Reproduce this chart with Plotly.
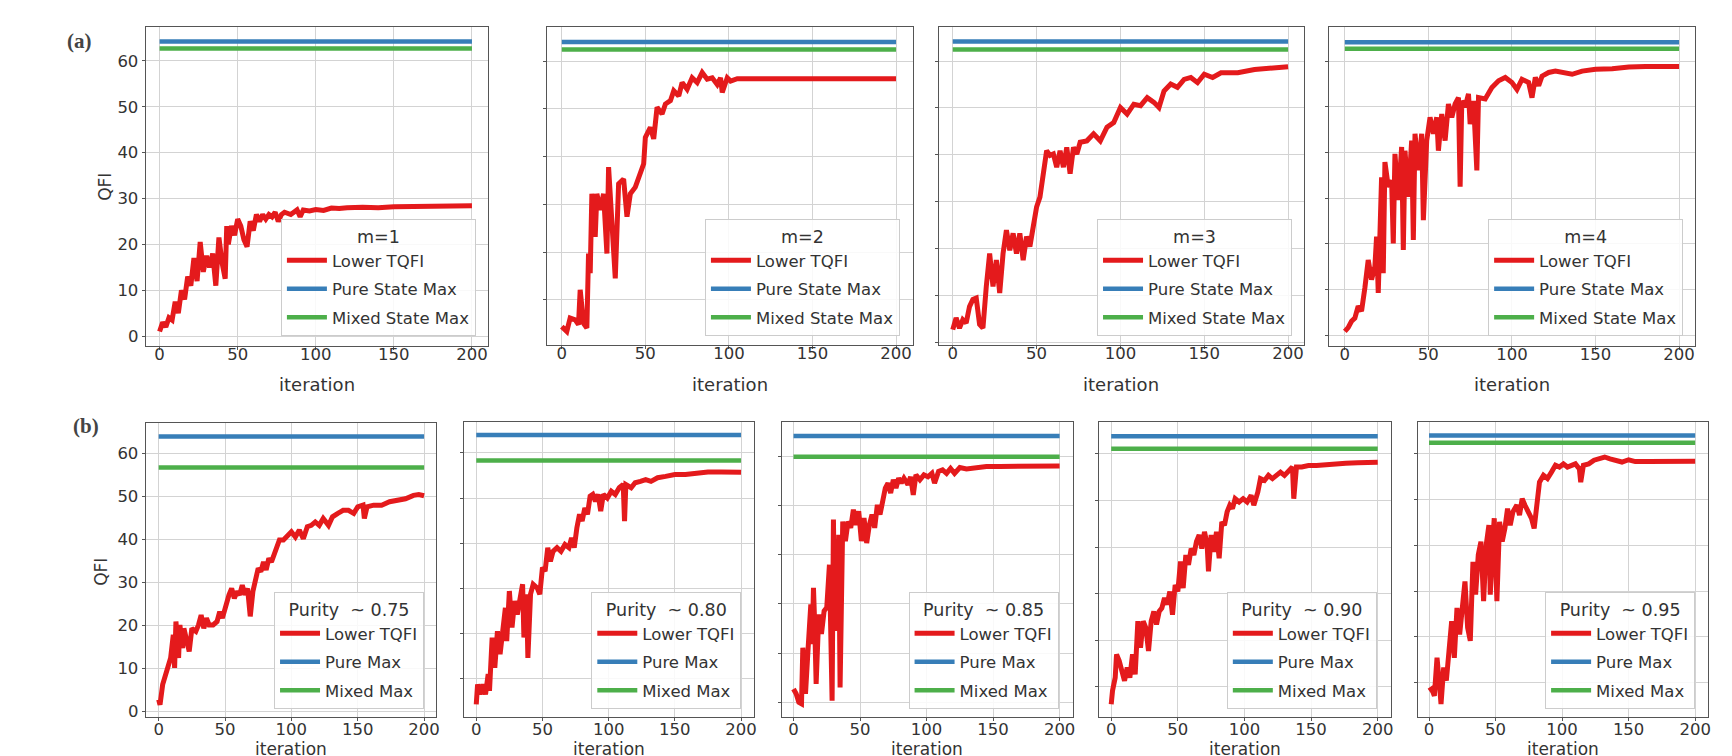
import plotly.graph_objects as go

W, H = 1732, 756

# ---------------- data ----------------
# Row (a): m = 1..4
a1_iter = [0,2,4,6,8,10,12,14,16,18,20,22,24,26,28,30,32,34,36,38,40,42,43,44,46,48,50,52,54,56,58,60,62,64,66,68,70,72,74,76,78,80,84,88,90,92,96,100,105,110,115,120,130,140,150,160,170,180,190,200]
a1_qfi = [1.0,3.0,2.0,4.0,3.5,7.5,5.0,10.0,8.0,13.0,11.0,17.0,12.0,20.5,14.0,17.5,15.0,18.0,11.0,21.5,16.0,12.5,24.0,20.0,24.0,22.0,25.5,24.0,21.0,19.5,25.0,23.0,26.5,25.0,26.5,25.5,26.5,26.0,27.0,25.0,26.5,27.0,26.5,27.5,26.0,27.5,27.3,27.6,27.4,27.9,27.8,28.0,28.1,28.0,28.2,28.2,28.3,28.3,28.3,28.4]

a2_iter = [0,3,5,8,10,11,13,15,16,17,18,20,21,23,25,27,28,30,32,34,37,39,41,44,47,49,50,53,55,57,60,62,65,67,70,72,75,78,81,84,87,90,93,95,96,99,101,105,120,200]
a2_qfi = [4.4,3.4,6.2,5.8,4.8,12.1,5.1,4.1,19.7,15.6,32.2,23.2,32.2,28.8,32.2,19.7,37.8,26.0,14.5,34.3,35.3,27.4,32.2,33.6,36.4,38.5,44.0,46.1,43.7,50.3,48.9,51.0,51.7,53.8,52.7,55.5,54.1,56.5,55.5,57.6,56.2,56.5,55.1,56.5,53.4,56.5,55.8,56.3,56.3,56.3]

a3_iter = [0,2,4,6,8,10,12,14,16,18,20,22,24,26,28,30,32,34,36,38,40,42,44,46,48,50,52,54,56,58,60,62,64,66,68,70,72,74,76,80,84,88,92,96,100,104,108,112,116,120,123,126,130,134,138,142,146,150,155,160,170,180,190,200]
a3_qfi = [2.8,5.3,3.1,4.9,4.2,7.7,9.2,9.5,3.9,3.1,12.0,19.0,12.0,17.6,10.6,19.0,24.0,19.7,23.3,19.0,23.3,17.6,22.6,20.5,24.7,28.9,31.0,36.0,40.9,39.9,40.2,37.4,40.9,37.4,41.6,36.0,41.6,40.2,42.7,43.0,44.5,43.0,45.9,46.9,50.1,48.7,50.8,50.5,52.2,51.2,50.1,53.6,55.1,54.4,56.1,56.5,55.4,57.2,56.5,57.5,57.5,58.2,58.6,58.8]

a4_iter = [0,2,4,6,8,10,12,14,16,18,19,20,22,23,24,26,28,29,30,32,34,35,36,38,40,41,42,44,46,47,49,51,53,55,56,58,60,62,64,66,68,69,70,72,74,75,77,79,80,84,88,92,96,100,103,106,110,112,114,116,118,122,126,130,136,142,150,160,170,180,190,200]
a4_qfi = [0.9,1.7,3.1,3.8,6.4,5.3,10.4,16.5,12.2,15.1,21.6,9.3,34.6,13.6,37.9,32.5,33.9,20.1,39.7,29.6,41.2,18.7,40.4,30.3,42.6,20.9,44.1,36.1,44.1,25.2,42.6,47.7,44.1,47.7,40.4,48.4,42.6,50.6,47.7,50.6,52.0,32.5,51.3,49.9,52.8,46.2,51.3,36.1,52.0,51.7,54.2,55.7,56.4,55.3,53.8,56.0,55.3,52.0,56.4,54.6,56.7,57.5,57.8,57.5,57.1,57.8,58.2,58.3,58.7,58.8,58.8,58.8]

pure_max_a = [64.2, 64.0, 64.15, 64.1]
mixed_max_a = [62.7, 62.4, 62.46, 62.7]
titles_a = ["m=1", "m=2", "m=3", "m=4"]
names_a = ["Lower TQFI", "Pure State Max", "Mixed State Max"]

# Row (b): purity ~ 0.75 .. 0.95
b1_iter = [0,1,3,5,7,9,11,12,13,15,16,18,19,21,23,25,28,30,32,34,36,38,41,44,46,48,50,53,55,57,59,61,63,65,67,69,71,73,75,77,79,81,83,85,87,89,91,94,97,100,103,106,109,112,115,118,121,124,128,131,135,139,143,147,150,154,155,157,162,168,174,180,186,192,196,200]
b1_qfi = [2.7,1.5,6.2,8.5,10.8,12.4,17.8,10.1,20.9,12.4,20.1,14.7,19.3,17.0,13.9,19.3,18.6,20.1,22.4,19.3,21.7,20.1,20.1,20.9,23.2,21.7,24.0,27.1,28.6,26.3,27.9,27.1,29.4,27.1,28.6,22.1,27.9,30.2,33.3,32.5,34.8,32.9,35.6,34.8,36.4,38.7,39.9,39.9,41.0,41.8,40.6,42.2,40.2,43.0,43.3,44.1,43.3,44.9,43.3,45.3,46.1,46.8,46.8,46.1,47.6,48.0,44.9,47.6,48.0,48.0,48.8,49.1,49.5,50.3,50.5,50.2]

b2_iter = [0,1,3,5,7,9,10,12,14,16,18,20,22,23,25,27,29,31,33,35,36,38,39,41,43,46,48,50,52,54,56,58,61,64,67,70,72,74,76,78,80,82,84,86,88,90,92,94,96,99,102,105,108,111,112,113,117,120,124,128,132,137,143,150,158,166,175,185,200]
b2_qfi = [4.3,8.7,6.5,8.7,6.5,11.0,7.3,19.1,12.4,20.5,15.4,22.0,25.7,18.3,29.4,21.3,27.2,24.2,27.2,30.9,19.1,28.7,14.6,28.7,30.9,30.1,28.7,34.6,33.8,39.0,36.0,38.2,39.0,38.2,39.7,39.0,41.2,39.0,43.4,46.4,44.9,47.8,46.4,50.4,50.8,49.3,50.8,47.1,50.8,50.0,51.5,50.8,52.3,53.0,44.9,53.0,52.3,53.4,53.7,54.1,53.7,54.5,54.8,55.2,55.2,55.6,55.8,55.8,55.7]

b3_iter = [0,2,4,6,7,9,11,13,14,15,16,17,19,21,23,25,27,28,29,30,31,32,33,34,35,37,39,41,43,45,47,49,51,53,55,57,59,61,63,65,67,69,71,73,75,77,79,81,83,86,88,90,92,95,98,101,104,106,109,112,115,118,121,125,130,136,145,155,170,185,200]
b3_qfi = [12.7,11.7,10.0,9.7,21.1,11.7,21.1,29.9,21.8,33.3,25.2,13.7,27.9,23.9,28.6,29.3,38.0,25.2,10.3,47.2,24.5,37.4,25.9,44.1,13.0,46.8,42.8,46.8,45.5,49.2,46.1,48.9,42.8,47.5,42.4,46.1,48.2,45.5,50.2,48.2,51.2,53.6,54.6,52.6,55.3,53.6,55.6,54.6,55.6,54.3,55.9,52.2,56.3,55.3,56.3,55.9,56.6,54.6,57.0,57.3,56.6,57.6,56.6,57.8,57.5,57.8,58.0,58.0,58.1,58.1,58.1]

b4_iter = [0,1,3,4,6,8,10,12,14,16,18,20,22,24,26,28,30,32,34,36,38,40,42,44,46,48,50,52,54,56,58,60,62,64,66,68,70,72,73,75,77,79,81,83,85,87,89,91,93,96,99,102,105,107,110,112,115,118,121,124,127,130,133,136,137,139,143,148,154,160,168,176,185,192,200]
b4_qfi = [6.3,9.2,12.0,17.0,15.6,13.4,11.3,14.2,12.0,17.0,12.7,24.1,18.4,24.1,22.7,17.7,24.1,26.2,23.4,26.2,26.9,29.1,27.7,30.5,25.5,31.9,30.5,36.9,31.2,38.3,36.2,39.7,38.3,41.2,42.6,39.7,43.3,40.5,34.8,42.6,39.0,43.3,37.6,45.4,44.7,47.6,49.0,48.3,50.4,49.7,50.4,49.7,51.1,49.0,51.8,54.7,54.3,55.4,54.7,55.4,56.1,55.4,56.4,57.2,50.4,57.2,57.2,57.5,57.5,57.7,57.9,58.0,58.1,58.2,58.2]

b5_iter = [0,2,4,6,8,9,11,13,15,17,19,21,23,25,27,29,31,33,35,37,39,41,43,45,46,48,49,51,53,55,57,59,61,63,66,68,70,72,75,77,79,81,83,86,89,92,95,98,101,104,107,110,113,114,116,120,124,128,132,136,140,145,150,155,165,180,200]
b5_qfi = [8.2,8.6,7.1,15.4,8.9,5.3,13.3,10.4,16.9,23.4,15.4,26.3,20.5,27.8,32.1,22.0,19.1,36.4,29.2,37.9,40.8,27.8,40.1,44.4,29.2,41.5,45.9,27.8,45.1,40.8,43.7,48.0,44.4,47.3,48.8,46.6,50.2,48.8,47.3,45.9,43.7,48.8,53.8,55.3,54.6,56.0,57.5,57.1,57.8,57.1,57.5,57.8,56.7,53.8,57.5,57.8,58.6,58.9,59.3,58.9,58.6,58.2,58.7,58.3,58.3,58.4,58.4]

pure_max_b = [64.0, 64.0, 64.2, 63.8, 64.0]
mixed_max_b = [56.8, 58.3, 60.0, 61.1, 62.4]
titles_b = ["Purity\u00a0 ~ 0.75", "Purity\u00a0 ~ 0.80", "Purity\u00a0 ~ 0.85",
            "Purity\u00a0 ~ 0.90", "Purity\u00a0 ~ 0.95"]
names_b = ["Lower TQFI", "Pure Max", "Mixed Max"]

x_ticks = [0, 50, 100, 150, 200]
y_ticks = [0, 10, 20, 30, 40, 50, 60]

# ---------------- layout geometry (pixels) ----------------
frames_a = [(138, 481, 19, 340), (540, 907, 19, 339), (933, 1299, 19, 339), (1324, 1691, 19, 340)]
xr_a = [(-8.9, 210.2), (-9.0, 210.1), (-8.3, 209.5), (-9.5, 209.6)]
yr_a = [(-2.2, 67.4), (0.5, 67.15), (-0.53, 67.27), (-2.35, 67.46)]
leg_a = [(469, 330), (894, 330), (1287, 330), (1679, 330)]

frames_b = [(138, 429, 417, 713), (457, 748, 416, 713), (776, 1067, 416, 713),
            (1094, 1386, 416, 713), (1413, 1704, 416, 713)]
xr_b = [(-9.8, 209.0), (-9.3, 210.0), (-8.5, 209.7), (-8.8, 209.8), (-8.5, 209.7)]
yr_b = [(-1.4, 67.2), (1.44, 66.9), (6.94, 67.1), (3.5, 66.9), (2.4, 67.0)]
leg_b = [(417, 705), (735, 705), (1053, 705), (1372, 705), (1691, 705)]

RED, BLUE, GREEN = "#e41a1c", "#377eb8", "#4daf4a"
TXT = "#333333"
FONT = "DejaVu Sans"
TICK_SIZE = 16.5
LEG_SIZE = 16.5


def px(x):
    return x / W


def py(y):
    return 1 - y / H


fig = go.Figure()
layout = dict(
    width=W, height=H, autosize=False,
    margin=dict(l=0, r=0, t=0, b=0, pad=0),
    paper_bgcolor="white", plot_bgcolor="white",
    font=dict(family=FONT, size=16, color=TXT),
    annotations=[], showlegend=True,
)

panels = []
series_a = [(a1_iter, a1_qfi), (a2_iter, a2_qfi), (a3_iter, a3_qfi), (a4_iter, a4_qfi)]
series_b = [(b1_iter, b1_qfi), (b2_iter, b2_qfi), (b3_iter, b3_qfi), (b4_iter, b4_qfi), (b5_iter, b5_qfi)]
for i in range(4):
    panels.append(dict(frame=frames_a[i], xr=xr_a[i], yr=yr_a[i], leg=leg_a[i],
                       data=series_a[i], pure=pure_max_a[i], mixed=mixed_max_a[i],
                       title=titles_a[i], names=names_a, first=(i == 0), row="a"))
for i in range(5):
    panels.append(dict(frame=frames_b[i], xr=xr_b[i], yr=yr_b[i], leg=leg_b[i],
                       data=series_b[i], pure=pure_max_b[i], mixed=mixed_max_b[i],
                       title=titles_b[i], names=names_b, first=(i == 0), row="b"))

for k, p in enumerate(panels):
    n = k + 1
    sfx = "" if n == 1 else str(n)
    xa, ya = "x" + sfx, "y" + sfx
    lg = "legend" + sfx
    L, R, T, B = p["frame"]
    axis_common = dict(
        showline=True, mirror=True, linecolor="#555555", linewidth=1,
        showgrid=True, gridcolor="#d3d3d3", gridwidth=1, zeroline=False,
        ticks="outside", ticklen=3, tickwidth=1, tickcolor="#555555",
        tickfont=dict(family=FONT, size=TICK_SIZE, color=TXT),
    )
    layout["xaxis" + sfx] = dict(
        axis_common, domain=[px(L), px(R)], anchor=ya, range=list(p["xr"]),
        tickmode="array", tickvals=x_ticks,
        ticklabelposition="outside",
        ticklabelstandoff=(-10 if p["row"] == "a" else -6),
    )
    layout["yaxis" + sfx] = dict(
        axis_common, domain=[py(B), py(T)], anchor=xa, range=list(p["yr"]),
        tickmode="array", tickvals=y_ticks, showticklabels=p["first"],
    )
    xs, ys = p["data"]
    fig.add_trace(go.Scatter(x=xs, y=ys, mode="lines", name=p["names"][0],
                             line=dict(color=RED, width=5), xaxis=xa, yaxis=ya, legend=lg,
                             legendgroup=f"p{n}r"))
    fig.add_trace(go.Scatter(x=[x_ticks[0], x_ticks[-1]], y=[p["pure"], p["pure"]], mode="lines",
                             name=p["names"][1], line=dict(color=BLUE, width=4.5),
                             xaxis=xa, yaxis=ya, legend=lg, legendgroup=f"p{n}b"))
    fig.add_trace(go.Scatter(x=[x_ticks[0], x_ticks[-1]], y=[p["mixed"], p["mixed"]], mode="lines",
                             name=p["names"][2], line=dict(color=GREEN, width=4.5),
                             xaxis=xa, yaxis=ya, legend=lg, legendgroup=f"p{n}g"))
    lx, ly = p["leg"]
    layout[lg] = dict(
        x=px(lx), y=py(ly), xanchor="right", yanchor="bottom",
        xref="paper", yref="paper",
        bgcolor="rgba(255,255,255,0.85)", bordercolor="#cccccc", borderwidth=1,
        font=dict(family=FONT, size=LEG_SIZE, color=TXT),
        title=dict(text=p["title"], side="top center", font=dict(family=FONT, size=17.5, color=TXT)),
        traceorder="grouped", tracegroupgap=4, itemwidth=40,
    )
    ytitle = 378 if p["row"] == "a" else 745
    tsize = 18 if p["row"] == "a" else 17
    layout["annotations"].append(dict(
        text="iteration", x=px((L + R) / 2), y=py(ytitle), xref="paper", yref="paper",
        xanchor="center", yanchor="middle", showarrow=False,
        font=dict(family=FONT, size=tsize, color=TXT)))

layout["annotations"].append(dict(text="QFI", x=px(97), y=py(180), xref="paper", yref="paper",
                                  textangle=-90, showarrow=False, xanchor="center", yanchor="middle",
                                  font=dict(family=FONT, size=17, color=TXT)))
layout["annotations"].append(dict(text="QFI", x=px(93), y=py(567), xref="paper", yref="paper",
                                  textangle=-90, showarrow=False, xanchor="center", yanchor="middle",
                                  font=dict(family=FONT, size=17, color=TXT)))
layout["annotations"].append(dict(text="<b>(a)</b>", x=px(72), y=py(33), xref="paper", yref="paper",
                                  showarrow=False, xanchor="center", yanchor="middle",
                                  font=dict(family="Liberation Serif", size=21, color="#444444")))
layout["annotations"].append(dict(text="<b>(b)</b>", x=px(78), y=py(420), xref="paper", yref="paper",
                                  showarrow=False, xanchor="center", yanchor="middle",
                                  font=dict(family="Liberation Serif", size=21, color="#444444")))

fig.update_layout(**layout)
fig.write_html("out.html")
